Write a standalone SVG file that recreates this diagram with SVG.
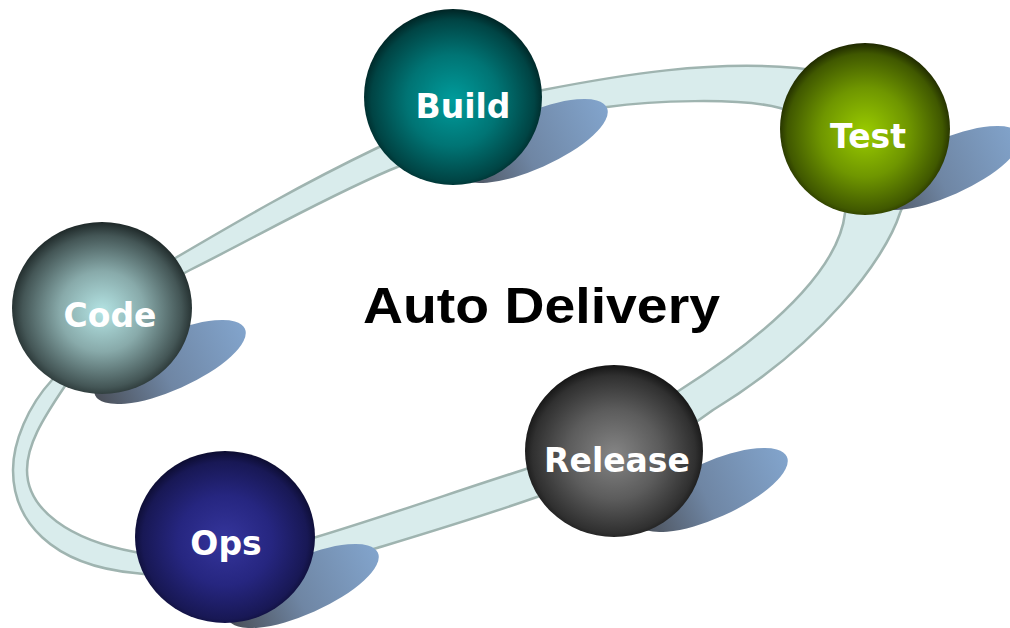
<svg xmlns="http://www.w3.org/2000/svg" width="1010" height="628" viewBox="0 0 1010 628">
<defs>
<radialGradient id="gCode" cx="50%" cy="52%" r="52%"><stop offset="0" stop-color="#b4e4e4"/><stop offset="0.45" stop-color="#88aaaa"/><stop offset="0.85" stop-color="#445656"/><stop offset="1" stop-color="#1e2828"/></radialGradient>
<radialGradient id="gBuild" cx="50%" cy="52%" r="52%"><stop offset="0" stop-color="#009c9c"/><stop offset="0.5" stop-color="#007474"/><stop offset="0.88" stop-color="#004444"/><stop offset="1" stop-color="#002424"/></radialGradient>
<radialGradient id="gTest" cx="50%" cy="52%" r="52%"><stop offset="0" stop-color="#9acc00"/><stop offset="0.5" stop-color="#6f9600"/><stop offset="0.88" stop-color="#405800"/><stop offset="1" stop-color="#1e2800"/></radialGradient>
<radialGradient id="gRelease" cx="50%" cy="52%" r="52%"><stop offset="0" stop-color="#858585"/><stop offset="0.5" stop-color="#5c5c5c"/><stop offset="0.88" stop-color="#303030"/><stop offset="1" stop-color="#141414"/></radialGradient>
<radialGradient id="gOps" cx="50%" cy="52%" r="52%"><stop offset="0" stop-color="#35359c"/><stop offset="0.5" stop-color="#262680"/><stop offset="0.88" stop-color="#181855"/><stop offset="1" stop-color="#0c0c30"/></radialGradient>
<linearGradient id="gShadow" x1="0" y1="0" x2="1" y2="0"><stop offset="0" stop-color="#4a4f58"/><stop offset="0.45" stop-color="#6f86a4"/><stop offset="1" stop-color="#82a4cc"/></linearGradient>
<style>
.band{fill:#d9ecec;fill-rule:evenodd;stroke:#9fb4b0;stroke-width:2.5}
.shadow{fill:url(#gShadow)}
.lbl{font-family:"DejaVu Sans",Verdana,sans-serif;font-weight:bold;font-size:33px;fill:#ffffff;text-anchor:middle}
.title{font-family:"Liberation Sans",Arial,sans-serif;font-weight:bold;font-size:50px;fill:#000000}
</style>
</defs>
<rect width="1010" height="628" fill="#ffffff"/>
<g id="connectors">
<path class="band" d="M13,470 C13,442 28,406 52,380 C90,330 130,285 177,257 C240,220 300,185 377,148 C440,118 500,100 543,90 C620,75 710,60 797,68 C880,75 930,150 900,213 C885,260 820,345 713,410 C660,450 600,475 537,497 C480,517 420,535 377,548 C330,562 200,582 135,573 C50,565 13,520 13,470 Z M27,470 C27,445 42,420 65,386 C100,330 140,295 190,270 C260,235 320,200 390,170 C450,145 540,115 607,107 C650,101 740,97 780,108 C830,122 860,170 845,213 C840,260 790,320 680,390 C620,430 570,455 523,470 C460,490 380,518 313,538 C250,555 180,560 135,552 C70,540 27,510 27,470 Z"/>
</g>
<g id="shadows">
<ellipse class="shadow" cx="170" cy="362" rx="82" ry="28" transform="rotate(-24 170 362)"/>
<ellipse class="shadow" cx="532" cy="141" rx="82" ry="28" transform="rotate(-24 532 141)"/>
<ellipse class="shadow" cx="945" cy="168" rx="82" ry="28" transform="rotate(-24 945 168)"/>
<ellipse class="shadow" cx="712" cy="490" rx="82" ry="28" transform="rotate(-24 712 490)"/>
<ellipse class="shadow" cx="303" cy="586" rx="82" ry="28" transform="rotate(-24 303 586)"/>
</g>
<g id="node-code">
<ellipse cx="102" cy="308" rx="90" ry="86" fill="url(#gCode)"/>
<text class="lbl" x="110" y="327">Code</text>
</g>
<g id="node-build">
<ellipse cx="453" cy="97" rx="89" ry="88" fill="url(#gBuild)"/>
<text class="lbl" x="463" y="118">Build</text>
</g>
<g id="node-test">
<ellipse cx="865" cy="129" rx="85" ry="86" fill="url(#gTest)"/>
<text class="lbl" x="868" y="148">Test</text>
</g>
<g id="node-release">
<ellipse cx="614" cy="451" rx="89" ry="86" fill="url(#gRelease)"/>
<text class="lbl" x="617" y="472">Release</text>
</g>
<g id="node-ops">
<ellipse cx="225" cy="537" rx="90" ry="86" fill="url(#gOps)"/>
<text class="lbl" x="226" y="555">Ops</text>
</g>
<g id="title">
<text class="title" x="363" y="323" textLength="357" lengthAdjust="spacingAndGlyphs">Auto Delivery</text>
</g>
</svg>
